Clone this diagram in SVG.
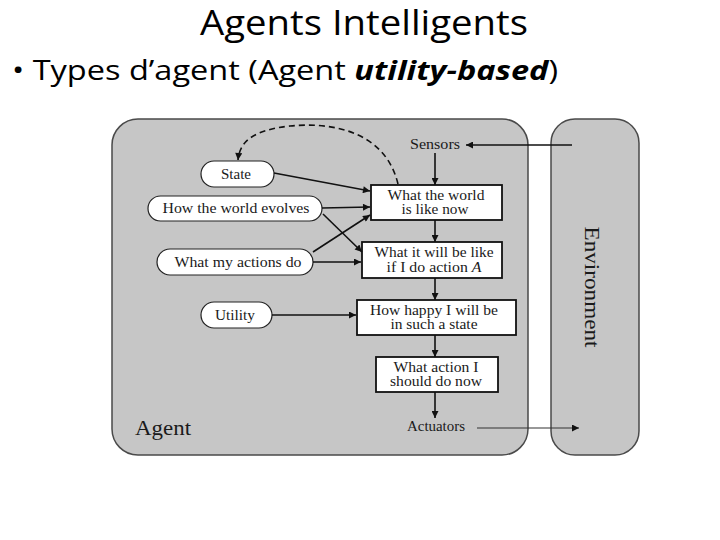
<svg xmlns="http://www.w3.org/2000/svg" width="720" height="540" viewBox="0 0 720 540">
<style>
.ttl{font-family:"Open Sans","Liberation Sans",sans-serif;fill:#000}
.lbl{font-family:"Liberation Serif",serif;font-size:14px;fill:#1a1a1a;text-anchor:middle}
.panel{fill:#c6c6c6;stroke:#4a4a4a;stroke-width:1.5}
.oval{fill:#fff;stroke:#222;stroke-width:1.2}
.box{fill:#fff;stroke:#111;stroke-width:1.8}
.c{stroke:#111;stroke-width:1.6;fill:none}
</style>
<defs>
<marker id="ah" viewBox="0 0 10 10" refX="10" refY="5" markerWidth="9" markerHeight="7" markerUnits="userSpaceOnUse" orient="auto">
<path d="M0,0 L10,5 L0,10 z" fill="#111"/>
</marker>
<marker id="ah2" viewBox="0 0 10 10" refX="10" refY="5" markerWidth="13" markerHeight="7" markerUnits="userSpaceOnUse" orient="auto">
<path d="M0,0 L10,5 L0,10 z" fill="#111"/>
</marker>
</defs>
<rect width="720" height="540" fill="#fff"/>
<text class="ttl" x="364" y="35" font-size="34" text-anchor="middle" textLength="328" lengthAdjust="spacingAndGlyphs">Agents Intelligents</text>
<text class="ttl" x="12" y="80" font-size="27" textLength="546" lengthAdjust="spacingAndGlyphs">• Types d’agent (Agent  <tspan font-weight="bold" font-style="italic">utility-based</tspan>)</text>

<g id="agent">
<rect class="panel" x="112" y="119" width="416" height="336" rx="26"/>
<text x="163" y="435" font-family="Liberation Serif,serif" font-size="22" text-anchor="middle" fill="#1a1a1a" textLength="56" lengthAdjust="spacingAndGlyphs">Agent</text>
</g>
<g id="environment">
<rect class="panel" x="551" y="119" width="88" height="336" rx="24"/>
<text transform="translate(585,287) rotate(90)" x="0" y="0" font-family="Liberation Serif,serif" font-size="21" text-anchor="middle" fill="#1a1a1a" textLength="121" lengthAdjust="spacingAndGlyphs">Environment</text>
</g>
<g id="sensors"><text class="lbl" x="435" y="149" textLength="50" lengthAdjust="spacingAndGlyphs">Sensors</text></g>
<g id="actuators"><text class="lbl" x="436" y="431" textLength="58" lengthAdjust="spacingAndGlyphs">Actuators</text></g>
<g id="state"><rect class="oval" x="201" y="161" width="73" height="26" rx="13"/><text class="lbl" x="236" y="179" textLength="30" lengthAdjust="spacingAndGlyphs">State</text></g>
<g id="evolves"><rect class="oval" x="148" y="196" width="174" height="25" rx="12.5"/><text class="lbl" x="236" y="213" textLength="147" lengthAdjust="spacingAndGlyphs">How the world evolves</text></g>
<g id="actions"><rect class="oval" x="157" y="249" width="156" height="26" rx="13"/><text class="lbl" x="238" y="267" textLength="127" lengthAdjust="spacingAndGlyphs">What my actions do</text></g>
<g id="utility"><rect class="oval" x="201" y="302" width="71" height="26" rx="13"/><text class="lbl" x="235" y="320" textLength="40" lengthAdjust="spacingAndGlyphs">Utility</text></g>
<g id="worldnow"><rect class="box" x="371" y="185" width="131" height="35"/><text class="lbl" x="436" y="200" textLength="97" lengthAdjust="spacingAndGlyphs">What the world</text><text class="lbl" x="435" y="214" textLength="67" lengthAdjust="spacingAndGlyphs">is like now</text></g>
<g id="willbe"><rect class="box" x="362" y="242" width="140" height="36"/><text class="lbl" x="434" y="257" textLength="119" lengthAdjust="spacingAndGlyphs">What it will be like</text><text class="lbl" x="434" y="272" textLength="95" lengthAdjust="spacingAndGlyphs">if I do action <tspan font-style="italic">A</tspan></text></g>
<g id="happy"><rect class="box" x="357" y="300" width="159" height="35"/><text class="lbl" x="434" y="315" textLength="128" lengthAdjust="spacingAndGlyphs">How happy I will be</text><text class="lbl" x="434" y="329" textLength="87" lengthAdjust="spacingAndGlyphs">in such a state</text></g>
<g id="whataction"><rect class="box" x="376" y="357" width="122" height="35"/><text class="lbl" x="436" y="372" textLength="85" lengthAdjust="spacingAndGlyphs">What action I</text><text class="lbl" x="436" y="386" textLength="92" lengthAdjust="spacingAndGlyphs">should do now</text></g>

<g id="connectors">
<line class="c" x1="572" y1="145" x2="466" y2="145" marker-end="url(#ah2)"/>
<line class="c" x1="435" y1="153" x2="435" y2="185" marker-end="url(#ah)"/>
<line class="c" x1="274" y1="173" x2="370" y2="191" marker-end="url(#ah2)"/>
<line class="c" x1="322" y1="208" x2="370" y2="207" marker-end="url(#ah2)"/>
<line class="c" x1="323" y1="214" x2="362" y2="252" marker-end="url(#ah2)"/>
<line class="c" x1="313" y1="252" x2="370" y2="215" marker-end="url(#ah2)"/>
<line class="c" x1="313" y1="262" x2="361" y2="262" marker-end="url(#ah2)"/>
<line class="c" x1="435" y1="220" x2="435" y2="242" marker-end="url(#ah)"/>
<line class="c" x1="435" y1="278" x2="435" y2="300" marker-end="url(#ah)"/>
<line class="c" x1="272" y1="315" x2="356" y2="315" marker-end="url(#ah2)"/>
<line class="c" x1="435" y1="335" x2="435" y2="357" marker-end="url(#ah)"/>
<line class="c" x1="435" y1="392" x2="435" y2="418" marker-end="url(#ah)"/>
<line x1="477" y1="428" x2="579" y2="428" stroke="#333" stroke-width="1.2" marker-end="url(#ah2)"/>
<path d="M398,184 C385,130 330,122 290,126 C255,130 240,140 238,160" fill="none" stroke="#111" stroke-width="1.6" stroke-dasharray="6,4" marker-end="url(#ah)"/>
</g>
</svg>
